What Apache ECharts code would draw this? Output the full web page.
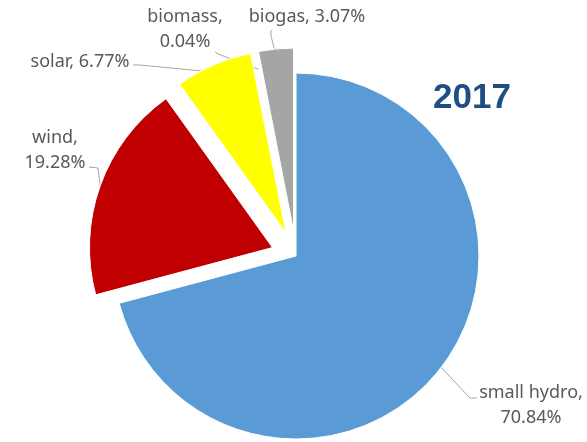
<!DOCTYPE html>
<html>
<head>
<meta charset="utf-8">
<script src="https://cdn.jsdelivr.net/npm/echarts@6/dist/echarts.min.js"></script>
<style>
  html, body { margin: 0; padding: 0; background: #fff; }
  #pieChart { width: 587px; height: 442px; }
</style>
</head>
<body>
<div id="pieChart"></div>
<script>
// data
const categories = ['small hydro', 'wind', 'solar', 'biomass', 'biogas']
const shares = [70.84, 19.28, 6.77, 0.04, 3.07]
const exploded = [false, true, true, true, true]
const wrapped = ['small hydro', 'wind', 'biomass'] // labels drawn on two lines

// styles / layout
const colorList = ['#5B9BD5', '#C00000', '#FFFF00', '#A5A5A5', '#A5A5A5']
const CX = 296, CY = 256, R = 183, OFFSET = 25
// label block centre, leader line elbow + end, and how far inside the arc the line starts
const labelCfg = {
  'small hydro': { pos: [531, 405], line: [[470, 398], [477, 398]], inset: 0 },
  'wind': { pos: [55, 150], line: [[98, 168], [89, 167]], inset: 0 },
  'solar': { pos: [80, 62], line: [[140, 65], [133, 65]], inset: 8 },
  'biomass': { pos: [185, 29], line: [[218, 54], [215, 52]], inset: 18 },
  'biogas': { pos: [307, 17], line: [[271, 36], [271, 30]], inset: 10 }
}

const total = shares.reduce((a, b) => a + b, 0)

// point where a slice's leader line starts (mid angle of the slice, on its arc)
function anchorOf (i) {
  let before = 0
  for (let k = 0; k < i; k++) before += shares[k]
  const mid = (before + shares[i] / 2) / total * Math.PI * 2
  const r = R + (exploded[i] ? OFFSET : 0) - labelCfg[categories[i]].inset
  return [CX + r * Math.sin(mid), CY - r * Math.cos(mid)]
}

const chart = echarts.init(document.getElementById('pieChart'))

const pieData = categories.map(function (name, i) {
  return { name: name, value: shares[i] }
})

const option = {
  animation: false,
  title: {
    text: '2017',
    left: 428,
    top: 76,
    textStyle: {
      fontFamily: 'Liberation Sans',
      fontSize: 35,
      fontWeight: 'bold',
      color: '#1F4E85'
    }
  },
  series: [
    {
      // the slices
      type: 'pie',
      center: [CX, CY],
      radius: R,
      startAngle: 90,
      clockwise: true,
      selectedMode: 'multiple',
      selectedOffset: OFFSET,
      label: { show: false },
      labelLine: { show: false },
      itemStyle: {
        borderColor: '#fff',
        borderWidth: 1,
        color: function (params) {
          return colorList[params.dataIndex]
        }
      },
      emphasis: { disabled: true },
      data: pieData.map(function (d, i) {
        return { name: d.name, value: d.value, selected: exploded[i] }
      })
    },
    {
      // labels + leader lines only
      type: 'pie',
      center: [CX, CY],
      radius: R,
      startAngle: 90,
      clockwise: true,
      silent: true,
      avoidLabelOverlap: false,
      itemStyle: { color: 'rgba(0,0,0,0)' },
      label: {
        show: true,
        position: 'outside',
        fontFamily: 'Noto Sans',
        fontSize: 18,
        color: '#595959',
        lineHeight: 25,
        formatter: function (params) {
          const sep = wrapped.indexOf(params.name) >= 0 ? ',\n' : ', '
          return params.name + sep + params.value.toFixed(2) + '%'
        }
      },
      labelLine: {
        show: true,
        smooth: false,
        lineStyle: { color: '#A6A6A6', width: 1 }
      },
      labelLayout: function (params) {
        const cfg = labelCfg[categories[params.dataIndex]]
        return {
          x: cfg.pos[0],
          y: cfg.pos[1],
          align: 'center',
          verticalAlign: 'middle',
          labelLinePoints: [anchorOf(params.dataIndex), cfg.line[0], cfg.line[1]]
        }
      },
      emphasis: { disabled: true },
      data: pieData
    }
  ]
}

chart.setOption(option)
</script>
</body>
</html>
